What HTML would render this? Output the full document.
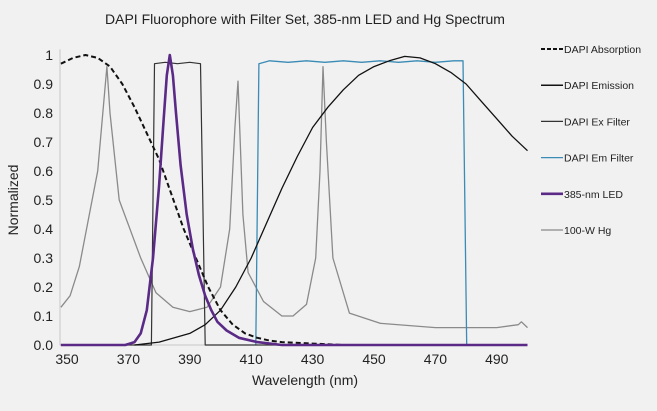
<!DOCTYPE html>
<html><head><meta charset="utf-8"><style>
html,body{margin:0;padding:0;background:#f1f1f1;}
svg{display:block;font-family:"Liberation Sans",sans-serif;}
</style></head><body>
<svg id="chart" width="657" height="411">
<rect width="657" height="411" fill="#f1f1f1"/>
<text x="305" y="24" font-size="14" text-anchor="middle" fill="#222">DAPI Fluorophore with Filter Set, 385-nm LED and Hg Spectrum</text>
<text x="0" y="0" transform="translate(18,200) rotate(-90)" font-size="14" text-anchor="middle" fill="#222">Normalized</text>
<text x="305" y="385" font-size="14" text-anchor="middle" fill="#222">Wavelength (nm)</text>
<g id="ticks"></g><g id="series"></g><g id="legend"></g>
</svg>
<script>
const xTicks=[350,370,390,410,430,450,470,490];
const yTicks=[0,0.1,0.2,0.3,0.4,0.5,0.6,0.7,0.8,0.9,1];
const yTickLabels=["0.0","0.1","0.2","0.3","0.4","0.5","0.6","0.7","0.8","0.9","1"];
const absW=[348,352,356,360,364,368,372,376,380,384,388,392,396,400,404,408,412,416,420,430,440];
const absV=[0.97,0.99,1.0,0.99,0.96,0.9,0.82,0.73,0.64,0.52,0.4,0.3,0.2,0.12,0.07,0.04,0.025,0.015,0.01,0.005,0];
const emW=[372,380,390,395,400,405,410,415,420,425,430,435,440,445,450,455,460,465,470,475,480,485,490,495,500];
const emV=[0,0.01,0.04,0.07,0.12,0.2,0.3,0.42,0.54,0.65,0.75,0.82,0.88,0.93,0.96,0.98,0.995,0.99,0.97,0.94,0.9,0.84,0.78,0.72,0.67];
const exW=[348,377.5,378.5,382,386,390,393.5,395,500];
const exV=[0,0,0.97,0.975,0.97,0.975,0.97,0,0];
const emfW=[411.5,412.5,416,422,428,434,440,446,452,458,464,470,476,479,480.2,500];
const emfV=[0,0.97,0.98,0.975,0.98,0.975,0.98,0.975,0.98,0.975,0.98,0.975,0.98,0.98,0,0];
const ledW=[348,369,372,374,376,378,380,381.5,382.5,383.5,384.5,385.5,387,389,391,393,395,397,399,402,406,412,420,500];
const ledV=[0,0,0.01,0.04,0.12,0.3,0.55,0.78,0.93,1.0,0.93,0.8,0.62,0.45,0.33,0.24,0.17,0.12,0.08,0.05,0.025,0.01,0,0];
const hgW=[348,351,354,360,363,364,367,374,379,384.5,390,395.6,400,403,404.7,405.7,407.3,409,414,420,423.6,428,431,432.4,433.4,434.5,436.6,442,452,470,490,497,498,500];
const hgV=[0.13,0.17,0.27,0.6,0.96,0.8,0.5,0.3,0.18,0.13,0.115,0.13,0.2,0.4,0.75,0.91,0.45,0.25,0.15,0.1,0.1,0.14,0.3,0.6,0.96,0.7,0.3,0.11,0.075,0.06,0.06,0.07,0.08,0.06];
const NS="http://www.w3.org/2000/svg";
function xS(w){return 67+(w-350)*3.07;}
function yS(v){return 345-v*290;}
const tg=document.getElementById('ticks');
const ax=document.createElementNS(NS,'path');
ax.setAttribute('d','M60,'+yS(1.02)+'V345H527');
ax.setAttribute('stroke','#c8c8c8');ax.setAttribute('fill','none');


tg.appendChild(ax);
xTicks.forEach(function(t){
  const e=document.createElementNS(NS,'text');
  e.setAttribute('x',xS(t));e.setAttribute('y',364);e.setAttribute('font-size','14');e.setAttribute('text-anchor','middle');e.setAttribute('fill','#222');
  e.textContent=t;
  
  
  tg.appendChild(e);
});
yTicks.forEach(function(t,i){
  const e=document.createElementNS(NS,'text');
  e.setAttribute('x',53);e.setAttribute('y',yS(t)+5);e.setAttribute('font-size','14');e.setAttribute('text-anchor','end');e.setAttribute('fill','#222');
  e.textContent=yTickLabels[i];
  
  
  tg.appendChild(e);
});
const sg=document.getElementById('series');
function line(W,V,color,width,dash,name){
  const p=document.createElementNS(NS,'path');
  p.setAttribute('d',W.map(function(w,i){return (i?'L':'M')+xS(w).toFixed(1)+','+yS(V[i]).toFixed(1);}).join(''));
  p.setAttribute('stroke',color);p.setAttribute('stroke-width',width);p.setAttribute('fill','none');p.setAttribute('stroke-linejoin','round');
  if(dash)p.setAttribute('stroke-dasharray',dash);
  
  
  sg.appendChild(p);
}
line(hgW,hgV,'#8a8a8a',1.3,null,'hg-line');
line(emfW,emfV,'#3a8bb5',1.3,null,'em-filter-line');
line(exW,exV,'#333',1.2,null,'ex-filter-line');
line(emW,emV,'#111',1.3,null,'emission-line');
line(absW,absV,'#111',2,'5,3','absorption-line');
line(ledW,ledV,'#5b2a86',2.6,null,'led-line');
const lg=document.getElementById('legend');
const items=[["DAPI Absorption","#111",2,"4,2"],["DAPI Emission","#111",1.5,null],["DAPI Ex Filter","#333",1.3,null],["DAPI Em Filter","#3a8bb5",1.3,null],["385-nm LED","#5b2a86",2.6,null],["100-W Hg","#8a8a8a",1.3,null]];
items.forEach(function(it,i){
  const y=49+i*36.2;
  const l=document.createElementNS(NS,'line');
  l.setAttribute('x1',541);l.setAttribute('x2',563);l.setAttribute('y1',y);l.setAttribute('y2',y);
  l.setAttribute('stroke',it[1]);l.setAttribute('stroke-width',it[2]);if(it[3])l.setAttribute('stroke-dasharray',it[3]);
  
  
  lg.appendChild(l);
  const t=document.createElementNS(NS,'text');
  t.setAttribute('x',564);t.setAttribute('y',y+4);t.setAttribute('font-size','10.5');t.setAttribute('fill','#222');
  t.textContent=it[0];
  
  
  lg.appendChild(t);
});
</script>
</body></html>
